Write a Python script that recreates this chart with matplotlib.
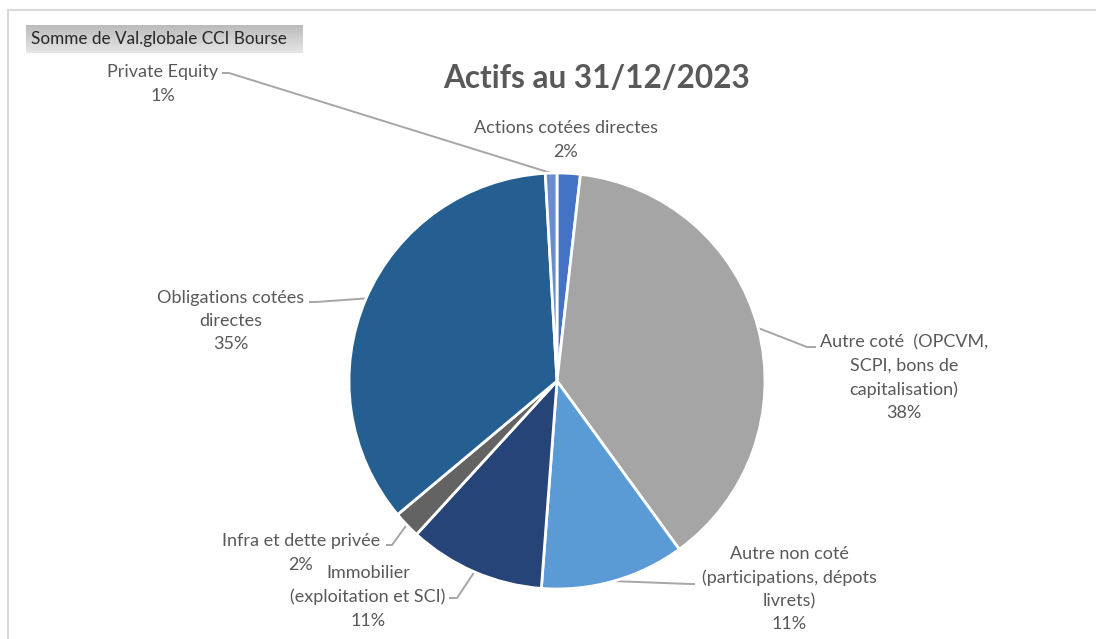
import numpy as np
import matplotlib
matplotlib.use('Agg')
import matplotlib.pyplot as plt
from matplotlib.patches import Rectangle

W, H = 1096, 639

# Data (share of total, in %)
categories = ['Actions cotées directes', 'Autre coté  (OPCVM,\nSCPI, bons de\ncapitalisation)',
              'Autre non coté\n(participations, dépots\nlivrets)', 'Immobilier\n(exploitation et SCI)',
              'Infra et dette privée', 'Obligations cotées\ndirectes', 'Private Equity']
values = [1.8, 38.2, 11.2, 10.6, 2.1, 35.2, 0.9]
colors = ['#4472C4', '#A5A5A5', '#5B9BD5', '#264478', '#636363', '#255E91', '#698ED0']

# label layout (pixel coords, y from top): text centre, leader elbow, leader end
label_pos = [(566, 140), (904, 378), (789, 589), (368, 597), (301, 553), (231, 321), (163, 84)]
leader_elbow = [None, (807, 347), (690, 584), (457, 598), (392, 545), (316, 302), (229, 73)]
leader_end = [None, (816, 347), (695, 584), (449, 598), (386, 545), (309, 302), (222, 73)]

txt_color = '#595959'
font = 'Lato'

fig = plt.figure(figsize=(W / 100, H / 100), dpi=100)
ax = fig.add_axes([0, 0, 1, 1])

def Y(y):
    return H - y

cx, cy, r = 557, Y(381), 208
wedges, _ = ax.pie(values, colors=colors, startangle=90, counterclock=False,
                   center=(cx, cy), radius=r,
                   wedgeprops=dict(edgecolor='white', linewidth=2))
ax.set_xlim(0, W)
ax.set_ylim(0, H)
ax.axis('off')

total = sum(values)
for i, (w, cat, v) in enumerate(zip(wedges, categories, values)):
    lx, ly = label_pos[i]
    ax.text(lx, Y(ly), f'{cat}\n{v / total:.0%}', ha='center', va='center',
            multialignment='center', fontsize=13, color=txt_color,
            family=font, linespacing=1.55)
    if leader_elbow[i] is not None:
        mid = np.deg2rad((w.theta1 + w.theta2) / 2)
        px, py = cx + r * np.cos(mid), cy + r * np.sin(mid)
        ex, ey = leader_elbow[i]
        tx, ty = leader_end[i]
        ax.plot([px, ex, tx], [py, Y(ey), Y(ty)], color='#A6A6A6', lw=1.4,
                solid_capstyle='butt', zorder=0)

# title
ax.text(597, Y(78), 'Actifs au 31/12/2023', ha='center', va='center',
        fontsize=22.7, fontweight='bold', color=txt_color, family=font)

# chart frame (cropped on right/bottom)
ax.add_patch(Rectangle((8, -20), W + 50, Y(10) + 20, fill=False,
                       edgecolor='#D9D9D9', lw=1.5, clip_on=False))

# field button with gradient
bx0, bx1, by0, by1 = 26, 303, 25, 53
grad = np.linspace(0, 1, 64).reshape(-1, 1)
ax.imshow(grad, cmap=matplotlib.colors.LinearSegmentedColormap.from_list('g', ['#E6E6E6', '#BBBBBB']),
          extent=(bx0, bx1, Y(by0), Y(by1)), aspect='auto', zorder=2, origin='upper')
ax.set_xlim(0, W)
ax.set_ylim(0, H)
ax.text(31, Y(39), 'Somme de Val.globale CCI Bourse', ha='left', va='center',
        fontsize=12.3, color='#262626', family=font, zorder=3)

fig.savefig('out.png', dpi=100)
